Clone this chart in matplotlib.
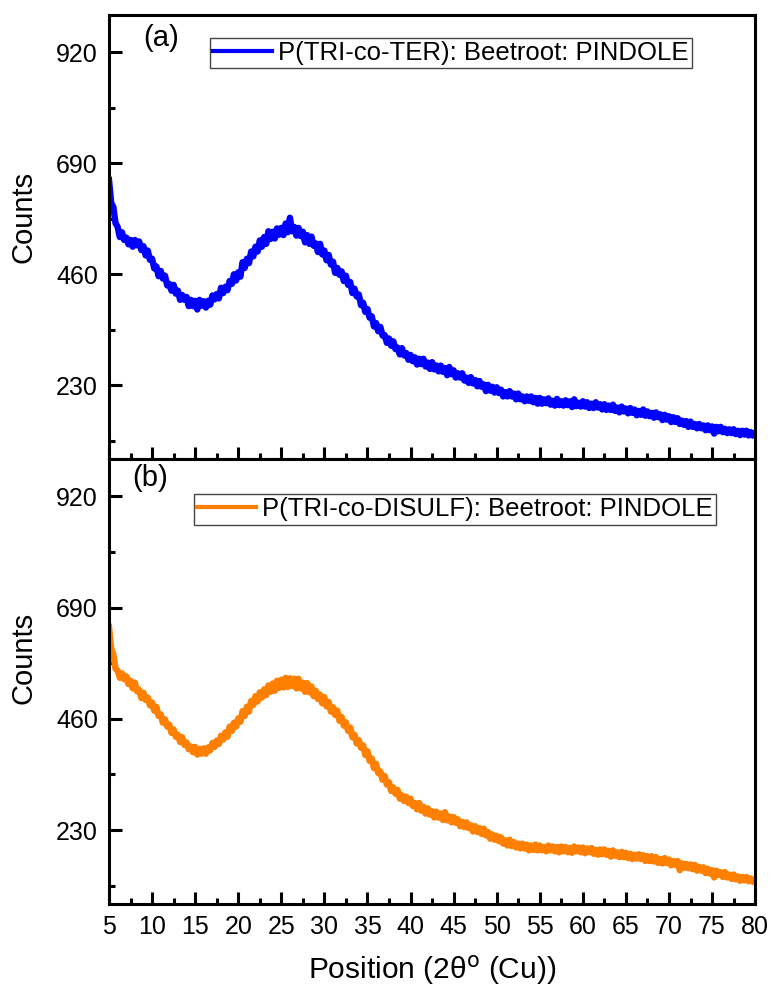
import numpy as np
import matplotlib
matplotlib.use("Agg")
import matplotlib.pyplot as plt

plt.rcParams['font.family'] = ['Liberation Sans', 'DejaVu Sans']

# 2-theta positions, 0.25 degree steps (5 .. 80)
two_theta = np.arange(5.0, 80.001, 0.25)

counts_ter = [
    655, 608, 599, 566, 558, 537, 547, 531, 536, 522,
    531, 517, 531, 520, 528, 510, 518, 499, 509, 490,
    492, 472, 476, 456, 467, 451, 457, 437, 440, 426,
    438, 420, 426, 407, 417, 407, 413, 394, 407, 394,
    405, 387, 407, 395, 404, 391, 405, 397, 416, 408,
    419, 410, 432, 421, 434, 427, 446, 440, 460, 447,
    464, 455, 485, 473, 492, 483, 507, 497, 517, 507,
    530, 517, 537, 523, 549, 533, 548, 534, 555, 542,
    556, 541, 565, 547, 577, 549, 558, 540, 556, 539,
    548, 526, 541, 523, 538, 519, 524, 506, 523, 501,
    509, 489, 500, 480, 486, 463, 473, 459, 466, 446,
    457, 438, 444, 421, 430, 414, 418, 396, 401, 382,
    388, 370, 373, 352, 359, 342, 351, 333, 334, 318,
    327, 312, 321, 305, 308, 294, 307, 292, 297, 283,
    293, 280, 288, 273, 285, 274, 285, 269, 277, 264,
    278, 263, 271, 259, 271, 258, 266, 251, 268, 253,
    261, 246, 255, 246, 255, 240, 246, 235, 247, 234,
    241, 228, 239, 227, 232, 218, 231, 219, 227, 215,
    226, 214, 221, 207, 216, 207, 218, 207, 213, 201,
    213, 201, 207, 197, 207, 198, 207, 195, 204, 192,
    204, 192, 201, 193, 203, 190, 198, 188, 202, 189,
    197, 188, 199, 189, 197, 185, 201, 187, 194, 186,
    197, 186, 195, 183, 192, 183, 195, 184, 191, 180,
    191, 179, 188, 179, 190, 177, 184, 174, 186, 176,
    182, 172, 183, 173, 180, 168, 177, 169, 180, 167,
    176, 166, 173, 163, 174, 164, 170, 158, 169, 159,
    166, 154, 164, 154, 162, 150, 157, 148, 156, 144,
    155, 144, 150, 141, 150, 141, 147, 137, 147, 137,
    145, 130, 144, 135, 144, 133, 140, 131, 139, 131,
    139, 129, 136, 127, 136, 128, 136, 126, 133, 126,
    131,
]

counts_disulf = [
    650, 606, 593, 564, 560, 545, 554, 542, 548, 532,
    539, 523, 535, 517, 520, 503, 514, 499, 504, 488,
    494, 477, 485, 466, 469, 452, 459, 444, 448, 431,
    438, 423, 427, 412, 422, 406, 411, 397, 403, 391,
    402, 386, 398, 388, 399, 388, 401, 395, 410, 402,
    415, 408, 425, 417, 432, 423, 444, 435, 452, 444,
    461, 454, 476, 466, 485, 475, 497, 489, 507, 496,
    515, 504, 521, 509, 529, 516, 533, 518, 539, 524,
    541, 525, 545, 526, 544, 528, 543, 523, 543, 523,
    535, 516, 534, 515, 527, 507, 518, 501, 510, 492,
    505, 486, 495, 475, 484, 468, 477, 456, 464, 446,
    453, 435, 442, 422, 427, 409, 416, 400, 405, 385,
    393, 373, 378, 358, 367, 348, 351, 334, 342, 324,
    329, 311, 318, 305, 313, 295, 302, 290, 299, 286,
    295, 280, 286, 273, 286, 270, 278, 264, 275, 262,
    269, 256, 268, 256, 264, 251, 267, 250, 258, 246,
    257, 245, 252, 238, 247, 236, 246, 234, 240, 227,
    238, 226, 234, 222, 233, 219, 226, 212, 221, 210,
    218, 207, 215, 202, 209, 198, 210, 197, 205, 194,
    202, 192, 202, 192, 200, 188, 198, 189, 200, 188,
    198, 188, 195, 186, 198, 188, 196, 186, 195, 184,
    196, 186, 195, 184, 193, 183, 196, 186, 194, 184,
    194, 182, 192, 184, 193, 181, 189, 179, 190, 180,
    190, 179, 187, 175, 188, 177, 184, 174, 185, 174,
    183, 172, 181, 170, 179, 171, 180, 170, 178, 166,
    176, 166, 176, 165, 174, 162, 170, 161, 172, 162,
    169, 157, 166, 158, 166, 147, 161, 152, 160, 151,
    159, 149, 158, 146, 154, 146, 153, 141, 150, 140,
    147, 132, 146, 137, 143, 133, 143, 132, 138, 129,
    138, 128, 134, 125, 133, 126, 133, 124, 130, 123,
    127,
]

y_ticks = [230, 460, 690, 920]
x_ticks = list(range(5, 81, 5))

panels = [
    ("(a)", counts_ter, "#0000FF", "P(TRI-co-TER): Beetroot: PINDOLE",
     (0.053, 0.948), (0.529, 0.948), 0.545),
    ("(b)", counts_disulf, "#FF7F00", "P(TRI-co-DISULF): Beetroot: PINDOLE",
     (0.036, 0.957), (0.535, 0.921), 0.553),
]

fig = plt.figure(figsize=(7.71, 9.94), dpi=100)
ax_top = fig.add_axes([0.1414, 0.538, 0.838, 0.447])
ax_bot = fig.add_axes([0.1414, 0.0905, 0.838, 0.4475], sharex=ax_top)

for ax, (tag, counts, color, name, tag_pos, anchor, ylab_y) in zip([ax_top, ax_bot], panels):
    ax.plot(two_theta, counts, color=color, lw=4.6, label=name)
    ax.set_xlim(5, 80)
    ax.set_ylim(77, 997)
    ax.set_yticks(y_ticks)
    ax.set_yticks([115, 345, 575, 805], minor=True)
    ax.set_xticks(x_ticks)
    ax.set_xticks(np.arange(7.5, 80, 5), minor=True)
    ax.tick_params(which='both', direction='in', width=2.2, labelsize=18,
                   top=False, right=False, pad=8)
    ax.tick_params(which='major', length=9)
    ax.tick_params(which='minor', length=4.5)
    for sp in ax.spines.values():
        sp.set_linewidth(2.2)
    ax.set_ylabel("Counts", fontsize=21)
    ax.yaxis.set_label_coords(-0.11, ylab_y)
    ax.text(tag_pos[0], tag_pos[1], tag, transform=ax.transAxes,
            fontsize=21, va='center', ha='left')
    leg = ax.legend(loc='upper center', bbox_to_anchor=anchor, fontsize=18.5,
                    fancybox=False, edgecolor='#444444', framealpha=1,
                    handlelength=2.3, borderpad=0.12, handletextpad=0.25,
                    borderaxespad=0)
    leg.get_frame().set_linewidth(1.0)
    for h in leg.get_lines():
        h.set_linewidth(3)

ax_top.tick_params(labelbottom=False)
ax_bot.set_xlabel("Position (2θ$^{\\mathrm{o}}$ (Cu))", fontsize=21.5, labelpad=10)

fig.savefig("out.png", dpi=100)
